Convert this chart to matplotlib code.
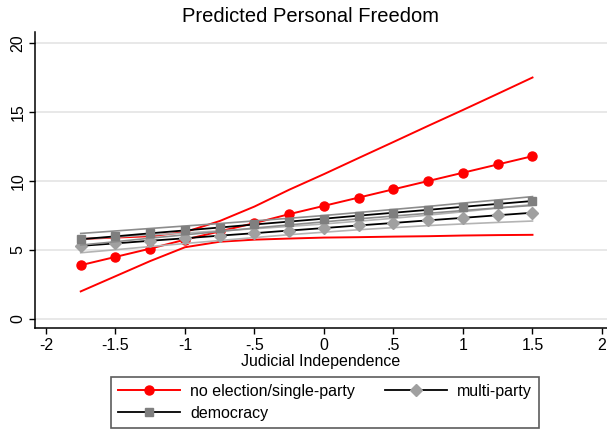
import matplotlib
matplotlib.use('Agg')
import matplotlib.pyplot as plt

plt.rcParams['font.family'] = ['Liberation Sans', 'DejaVu Sans']

# judicial independence values where predictions were made
x = [-1.75, -1.5, -1.25, -1.0, -0.75, -0.5, -0.25, 0.0, 0.25, 0.5, 0.75, 1.0, 1.25, 1.5]

# no election / single-party
single = [3.9, 4.5, 5.1, 5.75, 6.35, 6.95, 7.6, 8.2, 8.8, 9.4, 10.0, 10.6, 11.2, 11.8]
single_hi = [5.8, 5.9, 6.0, 6.3, 7.1, 8.15, 9.37, 10.5, 11.67, 12.83, 14.0, 15.15, 16.32, 17.5]
single_lo = [2.0, 3.1, 4.2, 5.2, 5.6, 5.75, 5.83, 5.9, 5.93, 5.97, 6.0, 6.05, 6.08, 6.1]

# multi-party
multi = [5.30, 5.48, 5.67, 5.85, 6.04, 6.22, 6.41, 6.59, 6.78, 6.96, 7.15, 7.33, 7.52, 7.70]
multi_hi = [5.80, 5.94, 6.09, 6.23, 6.39, 6.54, 6.71, 6.89, 7.09, 7.30, 7.53, 7.77, 8.04, 8.30]
multi_lo = [4.80, 5.02, 5.25, 5.47, 5.69, 5.90, 6.11, 6.29, 6.47, 6.62, 6.77, 6.89, 7.00, 7.10]

# democracy
demo = [5.78, 5.99, 6.21, 6.42, 6.63, 6.85, 7.06, 7.27, 7.49, 7.70, 7.91, 8.13, 8.34, 8.55]
demo_hi = [6.20, 6.38, 6.56, 6.74, 6.92, 7.11, 7.30, 7.50, 7.72, 7.94, 8.16, 8.40, 8.63, 8.87]
demo_lo = [5.36, 5.60, 5.86, 6.10, 6.34, 6.59, 6.82, 7.04, 7.26, 7.46, 7.66, 7.86, 8.05, 8.23]

xticks = [-2, -1.5, -1, -0.5, 0, 0.5, 1, 1.5, 2]
xtick_labels = ['-2', '-1.5', '-1', '-.5', '0', '.5', '1', '1.5', '2']
yticks = [0, 5, 10, 15, 20]

fig = plt.figure(figsize=(6.07, 4.34), dpi=100)
ax = fig.add_axes([35 / 607, 1 - 328.3 / 434, 1 - 35 / 607, (328.3 - 31.7) / 434])

red = '#ff0000'
# red series first
ax.plot(x, single_hi, color=red, lw=1.4, zorder=3)
ax.plot(x, single_lo, color=red, lw=1.4, zorder=3)
h_single, = ax.plot(x, single, color=red, lw=1.4, marker='o', ms=6.5,
                    mfc=red, mec=red, zorder=3)

ax.plot(x, multi_hi, color='#b4b4b4', lw=1.2, zorder=4)
ax.plot(x, multi_lo, color='#b4b4b4', lw=1.2, zorder=4)
h_multi, = ax.plot(x, multi, color='black', lw=1.3, marker='D', ms=5.8,
                   mfc='#a0a0a0', mec='#a0a0a0', zorder=4)

ax.plot(x, demo_hi, color='#8c8c8c', lw=1.2, zorder=5)
ax.plot(x, demo_lo, color='#8c8c8c', lw=1.2, zorder=5)
h_demo, = ax.plot(x, demo, color='black', lw=1.3, marker='s', ms=6.3,
                  mfc='#7f7f7f', mec='#7f7f7f', zorder=5)

ax.set_xlim(-2.079, 2.036)
ax.set_ylim(-0.674, 20.82)
ax.set_xticks(xticks)
ax.set_xticklabels(xtick_labels)
ax.set_yticks(yticks)
ax.set_yticklabels([str(v) for v in yticks], rotation=90, va='center')
ax.tick_params(labelsize=11.5, length=4, width=1, direction='out', pad=3)
ax.yaxis.grid(True, color='#e6e6e6', lw=1.3)
ax.set_axisbelow(True)
for s in ['top', 'right']:
    ax.spines[s].set_visible(False)
for s in ['left', 'bottom']:
    ax.spines[s].set_linewidth(1.1)

ax.set_xlabel('Judicial Independence', fontsize=11.5, labelpad=1)

fig.text(310 / 607, 1 - 17 / 434, 'Predicted Personal Freedom', fontsize=14.5,
         ha='center', va='center')

leg = fig.legend([h_single, h_demo, h_multi],
                 ['no election/single-party', 'democracy', 'multi-party'],
                 ncol=2, loc='lower center', bbox_to_anchor=(325 / 607, -0.005),
                 fontsize=11.5, handlelength=3.9, frameon=True, fancybox=False,
                 edgecolor='#333333', borderpad=0.45, labelspacing=0.45,
                 columnspacing=1.9, handletextpad=0.6)
leg.get_frame().set_linewidth(1.2)

fig.savefig('out.png', dpi=100)
